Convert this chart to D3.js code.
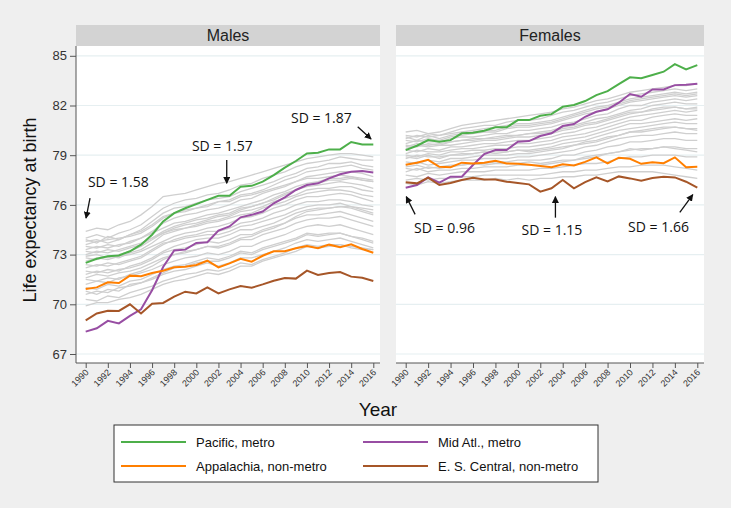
<!DOCTYPE html>
<html><head><meta charset="utf-8">
<script src="https://cdn.jsdelivr.net/npm/d3@7"></script>
<style>
html,body{margin:0;padding:0;background:#efefef;}
svg{display:block;font-family:"Liberation Sans",Arial,sans-serif;}
</style></head>
<body>
<svg id="chart" width="731" height="508"></svg>
<script>
const years = d3.range(1990, 2017);
const yTicks = [67, 70, 73, 76, 79, 82, 85];
const xTicks = d3.range(1990, 2017, 2);
const panels = ["Males", "Females"];
const seriesNames = ["Pacific, metro", "Mid Atl., metro", "Appalachia, non-metro", "E. S. Central, non-metro"];
const seriesColors = ["#4daf4a", "#984ea3", "#ff7f00", "#a65628"];

// Males highlighted series
const malePacific = [72.5,72.75,72.9,72.95,73.2,73.6,74.2,75.0,75.5,75.8,76.05,76.3,76.55,76.55,77.1,77.15,77.4,77.8,78.25,78.65,79.1,79.15,79.35,79.35,79.8,79.65,79.65];
const maleMidAtl = [68.35,68.55,69.0,68.85,69.3,69.7,70.85,72.25,73.25,73.3,73.7,73.75,74.45,74.7,75.25,75.4,75.6,76.1,76.45,76.9,77.2,77.3,77.6,77.85,78.0,78.05,77.95];
const maleAppalachia = [70.92,71.02,71.33,71.28,71.73,71.69,71.89,72.03,72.23,72.27,72.37,72.63,72.23,72.47,72.75,72.57,72.93,73.2,73.2,73.38,73.52,73.38,73.6,73.44,73.62,73.34,73.11];
const maleESCentral = [69.03,69.45,69.61,69.6,70.0,69.45,70.04,70.08,70.46,70.76,70.66,71.02,70.66,70.9,71.1,71.0,71.2,71.42,71.59,71.55,72.03,71.77,71.89,71.95,71.67,71.6,71.41];

// Females highlighted series
const femalePacific = [79.31,79.57,79.91,79.81,79.91,80.32,80.36,80.48,80.68,80.68,81.12,81.12,81.38,81.48,81.92,82.03,82.27,82.63,82.87,83.29,83.7,83.64,83.84,84.04,84.5,84.18,84.44];
const femaleMidAtl = [77.04,77.2,77.66,77.34,77.7,77.7,78.41,79.07,79.31,79.31,79.81,79.85,80.16,80.32,80.76,80.88,81.32,81.62,81.77,82.17,82.69,82.53,82.97,82.97,83.23,83.25,83.31];
const femaleAppalachia = [78.42,78.55,78.72,78.3,78.28,78.55,78.5,78.55,78.67,78.5,78.48,78.42,78.35,78.27,78.45,78.38,78.6,78.87,78.5,78.85,78.78,78.48,78.58,78.52,78.87,78.27,78.3];
const femaleESCentral = [77.36,77.3,77.64,77.2,77.32,77.5,77.64,77.53,77.53,77.4,77.32,77.24,76.8,77.0,77.5,77.0,77.38,77.66,77.42,77.72,77.6,77.46,77.62,77.7,77.66,77.4,77.04];

// Other regions (gray), males
const maleOthers = [
[74.4,74.6,74.5,74.8,75.0,75.4,75.9,76.5,76.6,76.7,76.9,77.1,77.3,77.4,77.6,77.8,78.0,78.2,78.4,78.6,78.8,78.9,79.0,79.1,79.1,79.0,78.9],
[74.0,74.2,74.0,74.3,74.5,74.8,75.3,75.8,76.1,76.3,76.4,76.6,76.7,76.9,77.2,77.3,77.6,77.8,78.0,78.3,78.5,78.6,78.7,78.9,78.8,78.7,78.7],
[73.8,73.9,73.7,73.9,74.2,74.5,75.0,75.5,75.8,75.9,76.1,76.3,76.4,76.5,76.8,77.0,77.2,77.4,77.7,77.9,78.2,78.3,78.5,78.5,78.6,78.4,78.3],
[73.6,73.8,73.9,74.0,74.1,74.3,74.7,75.2,75.5,75.6,75.8,75.9,76.2,76.3,76.6,76.7,76.9,77.2,77.5,77.7,78.0,78.1,78.2,78.3,78.4,78.2,78.1],
[73.5,73.4,73.6,73.5,73.8,74.0,74.4,74.9,75.2,75.4,75.5,75.7,75.8,76.0,76.3,76.4,76.7,76.9,77.1,77.4,77.7,77.8,77.9,78.0,78.0,77.9,77.7],
[73.3,73.5,73.4,73.6,73.7,74.0,74.3,74.6,74.9,75.0,75.2,75.4,75.5,75.7,75.9,76.1,76.3,76.6,76.8,77.1,77.3,77.4,77.6,77.6,77.7,77.5,77.4],
[73.2,73.1,73.3,73.2,73.4,73.6,74.0,74.4,74.7,74.9,75.1,75.2,75.4,75.5,75.8,75.9,76.1,76.3,76.6,76.9,77.1,77.2,77.3,77.4,77.3,77.2,77.0],
[73.0,73.2,73.1,73.3,73.5,73.7,74.0,74.3,74.5,74.6,74.8,75.0,75.1,75.3,75.6,75.7,75.9,76.2,76.4,76.6,76.9,77.0,77.0,77.1,77.1,76.9,76.8],
[72.8,72.7,72.9,72.8,73.1,73.3,73.7,74.2,74.4,74.6,74.7,74.9,75.0,75.2,75.4,75.5,75.8,76.0,76.2,76.5,76.7,76.8,76.9,76.9,76.8,76.6,76.5],
[72.6,72.8,72.7,72.9,73.0,73.2,73.5,73.8,74.1,74.3,74.4,74.6,74.7,74.9,75.2,75.3,75.5,75.8,76.0,76.3,76.5,76.5,76.6,76.7,76.6,76.4,76.2],
[72.4,72.3,72.5,72.4,72.6,72.8,73.2,73.6,73.9,74.1,74.2,74.4,74.4,74.6,74.9,75.0,75.2,75.5,75.7,76.0,76.2,76.2,76.3,76.3,76.2,76.0,75.9],
[72.2,72.4,72.3,72.5,72.7,72.9,73.3,73.7,73.8,74.0,74.1,74.2,74.2,74.4,74.7,74.8,75.0,75.2,75.4,75.7,75.9,76.0,76.0,76.1,75.9,75.7,75.5],
[72.0,71.9,72.1,72.0,72.3,72.5,72.8,73.2,73.5,73.7,73.9,74.0,74.0,74.2,74.5,74.5,74.7,74.9,75.2,75.5,75.7,75.8,75.8,75.9,75.8,75.6,75.4],
[71.8,72.0,71.9,72.1,72.2,72.4,72.7,73.1,73.3,73.4,73.6,73.8,73.7,73.9,74.2,74.2,74.5,74.7,74.9,75.2,75.4,75.4,75.5,75.6,75.4,75.2,75.0],
[71.5,71.4,71.6,71.5,71.8,72.0,72.3,72.7,73.0,73.1,73.3,73.5,73.4,73.6,73.9,73.9,74.2,74.4,74.6,74.9,75.1,75.2,75.2,75.3,75.1,74.9,74.7],
[71.2,71.4,71.3,71.6,71.7,71.9,72.1,72.4,72.6,72.8,72.9,73.1,73.0,73.2,73.5,73.5,73.8,74.0,74.2,74.5,74.7,74.8,74.7,74.8,74.6,74.4,74.2],
[71.0,70.9,71.2,71.1,71.4,71.5,71.8,72.1,72.3,72.4,72.6,72.8,72.7,72.9,73.2,73.1,73.4,73.6,73.8,74.0,74.3,74.2,74.3,74.3,74.1,73.9,73.7],
[70.6,70.8,70.7,71.0,71.1,71.3,71.5,71.8,72.0,72.1,72.3,72.5,72.3,72.5,72.8,72.8,73.0,73.2,73.4,73.7,73.9,73.8,73.9,74.0,73.8,73.6,73.4],
[70.3,70.2,70.5,70.4,70.7,70.9,71.1,71.4,71.6,71.8,71.9,72.1,72.0,72.2,72.5,72.4,72.7,72.9,73.1,73.4,73.6,73.5,73.6,73.6,73.5,73.4,73.3],
[69.9,70.1,70.1,70.3,70.4,70.6,70.9,71.2,71.4,71.5,71.7,71.9,71.8,72.0,72.3,72.3,72.6,72.8,73.0,73.2,73.5,73.4,73.5,73.6,73.4,73.3,73.3],
[73.9,73.7,74.1,73.9,74.2,74.4,74.8,75.3,75.5,75.7,75.8,76.0,76.2,76.2,76.5,76.6,76.8,77.0,77.2,77.4,77.6,77.6,77.7,77.8,77.7,77.6,77.5],
[72.9,73.0,72.8,73.0,73.2,73.5,73.9,74.3,74.6,74.8,74.9,75.1,75.3,75.4,75.7,75.9,76.1,76.4,76.7,76.9,77.2,77.3,77.5,77.5,77.6,77.5,77.4],
[71.6,71.8,71.7,71.9,72.0,72.2,72.5,72.8,73.0,73.2,73.3,73.5,73.5,73.7,74.0,74.1,74.4,74.6,74.9,75.3,75.6,75.7,75.8,75.9,75.9,75.8,75.7],
[70.8,70.6,70.9,70.8,71.2,71.3,71.6,71.9,72.2,72.3,72.5,72.6,72.6,72.8,73.1,73.0,73.3,73.5,73.7,73.9,74.2,74.1,74.2,74.3,74.1,74.0,73.8]
];

// Other regions (gray), females
const femaleOthers = [
[80.4,80.5,80.3,80.4,80.6,80.8,80.9,81.0,81.1,81.2,81.3,81.4,81.5,81.6,81.8,81.9,82.1,82.3,82.4,82.6,82.8,82.9,83.0,83.1,83.2,83.2,83.3],
[80.2,80.1,80.3,80.2,80.4,80.6,80.7,80.8,80.8,81.0,81.1,81.1,81.2,81.4,81.6,81.7,81.9,82.1,82.2,82.4,82.6,82.7,82.8,82.9,83.0,82.9,83.0],
[80.0,80.2,80.1,80.2,80.3,80.4,80.5,80.6,80.7,80.8,80.9,80.9,81.0,81.1,81.3,81.5,81.7,81.9,82.0,82.2,82.4,82.5,82.6,82.7,82.8,82.7,82.8],
[79.9,79.8,80.0,79.9,80.1,80.2,80.3,80.4,80.4,80.6,80.7,80.7,80.8,80.9,81.1,81.3,81.5,81.6,81.8,82.0,82.2,82.3,82.4,82.5,82.6,82.5,82.6],
[79.7,79.9,79.8,79.8,80.0,80.1,80.1,80.2,80.3,80.3,80.5,80.5,80.6,80.7,80.9,81.0,81.2,81.4,81.5,81.8,82.0,82.0,82.2,82.3,82.4,82.3,82.4],
[79.6,79.5,79.7,79.6,79.8,79.9,80.0,80.0,80.1,80.2,80.2,80.3,80.4,80.5,80.7,80.8,81.0,81.2,81.3,81.5,81.7,81.8,82.0,82.1,82.2,82.1,82.1],
[79.4,79.6,79.5,79.6,79.6,79.7,79.8,79.9,79.9,80.0,80.1,80.1,80.2,80.3,80.5,80.6,80.8,80.9,81.1,81.3,81.5,81.6,81.7,81.8,81.9,81.8,81.9],
[79.3,79.2,79.4,79.3,79.5,79.5,79.6,79.7,79.7,79.8,79.9,79.9,80.0,80.1,80.3,80.4,80.6,80.7,80.9,81.1,81.3,81.4,81.5,81.6,81.7,81.6,81.7],
[79.1,79.3,79.2,79.2,79.3,79.4,79.4,79.5,79.6,79.6,79.7,79.7,79.8,79.9,80.1,80.2,80.3,80.5,80.7,80.9,81.1,81.1,81.3,81.4,81.5,81.4,81.4],
[79.0,78.9,79.1,79.0,79.2,79.2,79.3,79.3,79.4,79.4,79.5,79.5,79.6,79.7,79.9,80.0,80.1,80.3,80.5,80.7,80.9,80.9,81.0,81.1,81.2,81.1,81.2],
[78.8,79.0,78.9,78.9,79.0,79.0,79.1,79.2,79.2,79.2,79.3,79.3,79.4,79.5,79.7,79.8,79.9,80.1,80.3,80.5,80.6,80.7,80.8,80.9,81.0,80.9,80.9],
[78.6,78.5,78.7,78.6,78.8,78.8,78.9,79.0,79.0,79.0,79.1,79.1,79.2,79.3,79.4,79.6,79.7,79.8,80.0,80.2,80.4,80.4,80.5,80.6,80.7,80.6,80.6],
[78.4,78.6,78.4,78.5,78.6,78.7,78.7,78.8,78.8,78.8,78.9,78.9,79.0,79.1,79.2,79.3,79.5,79.6,79.8,80.0,80.1,80.2,80.2,80.3,80.4,80.3,80.3],
[78.2,78.1,78.3,78.2,78.3,78.4,78.5,78.5,78.6,78.6,78.7,78.7,78.7,78.8,79.0,79.0,79.2,79.3,79.5,79.6,79.8,79.8,79.9,80.0,80.0,79.9,79.9],
[78.0,78.2,78.0,78.1,78.1,78.2,78.2,78.3,78.3,78.3,78.4,78.4,78.4,78.5,78.6,78.7,78.8,78.9,79.1,79.2,79.3,79.4,79.4,79.5,79.5,79.4,79.4],
[77.8,77.7,77.9,77.8,77.9,78.0,78.0,78.0,78.1,78.1,78.1,78.1,78.2,78.2,78.3,78.4,78.5,78.5,78.6,78.8,78.9,78.9,79.0,79.0,79.0,78.9,78.9],
[77.5,77.6,77.5,77.6,77.6,77.7,77.7,77.8,77.8,77.8,77.8,77.8,77.8,77.9,78.0,78.0,78.1,78.1,78.2,78.3,78.3,78.4,78.4,78.4,78.3,78.2,78.1],
[77.3,77.2,77.4,77.3,77.4,77.5,77.5,77.5,77.6,77.5,77.6,77.5,77.6,77.6,77.7,77.7,77.8,77.8,77.9,78.0,78.0,78.0,78.0,77.9,77.8,77.7,77.6],
[80.1,79.9,80.2,80.0,80.2,80.3,80.4,80.5,80.5,80.7,80.8,80.8,80.9,81.0,81.2,81.4,81.6,81.8,81.9,82.1,82.3,82.4,82.5,82.6,82.7,82.6,82.7],
[79.5,79.7,79.6,79.7,79.8,79.9,79.9,80.0,80.0,80.1,80.2,80.3,80.3,80.4,80.6,80.7,80.9,81.0,81.2,81.4,81.6,81.6,81.8,81.9,81.9,81.8,81.8],
[78.9,78.8,79.0,78.8,79.0,79.1,79.1,79.2,79.1,79.2,79.3,79.2,79.3,79.4,79.5,79.6,79.8,79.9,80.1,80.2,80.4,80.5,80.6,80.7,80.7,80.6,80.5],
[78.3,78.4,78.2,78.3,78.4,78.4,78.5,78.4,78.5,78.5,78.5,78.6,78.5,78.6,78.7,78.7,78.9,79.0,79.1,79.2,79.4,79.3,79.4,79.5,79.4,79.3,79.2]
];

// SD annotations: [label, textYear, textValue, arrowFromYear, arrowFromValue, arrowToYear, arrowToValue]
const maleNotes = [
  ["SD = 1.58", 1990.2, 77.38, 1990.39, 76.41, 1990.03, 75.2],
  ["SD = 1.57", 1999.6, 79.57, 2002.75, 78.71, 2002.75, 77.3],
  ["SD = 1.87", 2008.56, 81.26, 2014.59, 80.72, 2015.8, 79.98]
];
const femaleNotes = [
  ["SD = 0.96", 1990.75, 74.59, 1990.84, 75.43, 1990.05, 76.5],
  ["SD = 1.15", 2000.33, 74.48, 2003.35, 75.23, 2003.35, 76.5],
  ["SD = 1.66", 2009.83, 74.68, 2014.44, 75.55, 2015.6, 76.62]
];

const panelData = [
  {name: panels[0], hl: [malePacific, maleMidAtl, maleAppalachia, maleESCentral], others: maleOthers, notes: maleNotes, x0: 76, x1: 380},
  {name: panels[1], hl: [femalePacific, femaleMidAtl, femaleAppalachia, femaleESCentral], others: femaleOthers, notes: femaleNotes, x0: 396, x1: 704}
];

const svg = d3.select("#chart");
svg.append("defs").append("marker")
  .attr("id", "arrow").attr("viewBox", "0 0 10 10").attr("refX", 9).attr("refY", 5)
  .attr("markerWidth", 7).attr("markerHeight", 7).attr("markerUnits", "userSpaceOnUse")
  .attr("orient", "auto")
  .append("path").attr("d", "M0,0L10,5L0,10z").attr("fill", "#111");

const plotTop = 46, plotBottom = 363, headerTop = 25;
const y = d3.scaleLinear().domain([67, 85]).range([354, 55.8]);

panelData.forEach((p, pi) => {
  const x = d3.scaleLinear().domain([1990, 2016]).range([p.x0 + 9.7, p.x1 - 6.7]);
  const g = svg.append("g");
  g.append("rect").attr("x", p.x0).attr("y", plotTop).attr("width", p.x1 - p.x0).attr("height", plotBottom - plotTop).attr("fill", "#fff");
  g.append("rect").attr("x", p.x0).attr("y", headerTop).attr("width", p.x1 - p.x0).attr("height", plotTop - headerTop).attr("fill", "#d3d3d3");
  g.append("text").attr("x", (p.x0 + p.x1) / 2).attr("y", (headerTop + plotTop) / 2 + 5.5)
    .attr("text-anchor", "middle").attr("font-size", 16).attr("fill", "#222").text(p.name);
  g.selectAll(".grid").data(yTicks).join("line")
    .attr("x1", p.x0).attr("x2", p.x1).attr("y1", d => y(d)).attr("y2", d => y(d))
    .attr("stroke", "#e6eff1").attr("stroke-width", 1.2);
  const line = d3.line().x((d, i) => x(years[i])).y(d => y(d));
  g.selectAll(".other").data(p.others).join("path")
    .attr("d", line).attr("fill", "none").attr("stroke", "#cfcfcf").attr("stroke-width", 1.3);
  p.hl.forEach((s, si) => {
    g.append("path").datum(s).attr("d", line).attr("fill", "none")
      .attr("stroke", seriesColors[si]).attr("stroke-width", 2);
  });
  const xa = g.append("g").attr("transform", `translate(0,${plotBottom})`)
    .call(d3.axisBottom(x).tickValues(xTicks).tickFormat(d3.format("d")).tickSize(5).tickSizeOuter(0));
  xa.select(".domain").attr("stroke", "#555").attr("d", `M${p.x0},0H${p.x1}`);
  xa.selectAll(".tick line").attr("stroke", "#555");
  xa.selectAll(".tick text").attr("font-size", 9).attr("fill", "#333")
    .attr("text-anchor", "end").attr("dx", 0).attr("dy", 0).attr("y", 0)
    .attr("transform", "translate(3,10) rotate(-45)");
  if (pi === 0) {
    const ya = g.append("g").attr("transform", `translate(${p.x0},0)`)
      .call(d3.axisLeft(y).tickValues(yTicks).tickSize(6).tickPadding(3).tickSizeOuter(0));
    ya.select(".domain").attr("stroke", "#555").attr("d", `M0,${plotTop}V${plotBottom}`);
    ya.selectAll(".tick line").attr("stroke", "#555");
    ya.selectAll(".tick text").attr("font-size", 13).attr("fill", "#333").attr("font-family", "Liberation Sans, Arial, sans-serif");
  }
  p.notes.forEach(n => {
    g.append("text").attr("x", x(n[1])).attr("y", y(n[2]) + 5).attr("font-size", 14)
      .attr("font-family", "Open Sans, Liberation Sans, sans-serif").attr("fill", "#111").text(n[0]);
    g.append("line").attr("x1", x(n[3])).attr("y1", y(n[4])).attr("x2", x(n[5])).attr("y2", y(n[6]))
      .attr("stroke", "#111").attr("stroke-width", 1.3).attr("marker-end", "url(#arrow)");
  });
});

svg.append("text").attr("transform", "translate(36,210) rotate(-90)").attr("text-anchor", "middle")
  .attr("font-size", 18).attr("fill", "#111").text("Life expectancy at birth");
svg.append("text").attr("x", 378).attr("y", 416).attr("text-anchor", "middle")
  .attr("font-size", 19).attr("fill", "#111").text("Year");

const lg = svg.append("g");
lg.append("rect").attr("x", 114).attr("y", 425).attr("width", 484).attr("height", 57)
  .attr("fill", "#fff").attr("stroke", "#333").attr("stroke-width", 1);
seriesNames.forEach((name, k) => {
  const col = k % 2, row = Math.floor(k / 2);
  const lx = col === 0 ? 121 : 363, ly = 442 + row * 24;
  lg.append("line").attr("x1", lx).attr("x2", lx + 65).attr("y1", ly).attr("y2", ly)
    .attr("stroke", seriesColors[k]).attr("stroke-width", 2);
  lg.append("text").attr("x", lx + 75).attr("y", ly + 5).attr("font-size", 13).attr("fill", "#111").text(name);
});
</script>
</body></html>
